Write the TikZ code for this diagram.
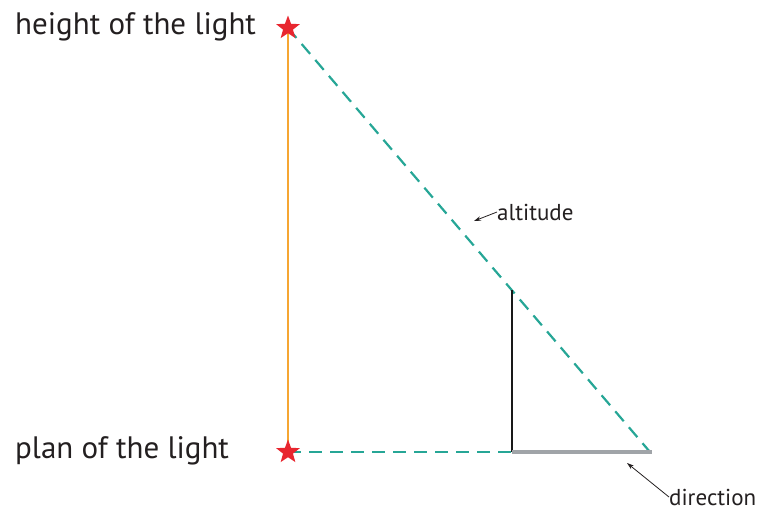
\documentclass[tikz,border=0pt]{standalone}
\usepackage{fontspec}
\setmainfont{PT Sans}
\usetikzlibrary{shapes.geometric,arrows.meta}
\definecolor{tealc}{RGB}{38,166,150}
\definecolor{orangec}{RGB}{246,166,50}
\definecolor{redc}{RGB}{232,38,47}
\definecolor{grayc}{RGB}{160,164,168}
\definecolor{textc}{RGB}{35,31,32}
\tikzset{
  starnode/.style={star,star points=5,star point ratio=2.4,fill=redc,draw=none,minimum size=25pt,inner sep=0pt},
  dashline/.style={tealc,line width=2.2pt,dash pattern=on 13pt off 8pt},
  bigtext/.style={font=\fontsize{31}{36}\selectfont,text=textc,inner sep=0pt},
  smalltext/.style={font=\fontsize{23}{27}\selectfont,text=textc,inner sep=0pt},
  pointer/.style={-{Stealth[length=7pt,width=4.5pt]},line width=0.8pt,textc},
}
\begin{document}
\begin{tikzpicture}[x=1pt,y=-1pt]
\useasboundingbox (0,0) rectangle (765,515);
\coordinate (top) at (288,28);
\coordinate (base) at (288,452);
\coordinate (foot) at (512,452);
\coordinate (tip) at (512,290);
\coordinate (end) at (652,452);
\draw[orangec,line width=2.5pt] (top) -- (base);
\draw[dashline] (top) -- (650,452) coordinate (shadowend);
\draw[dashline] (base) -- (foot);
\draw[black!90,line width=2.4pt] (foot) -- (tip);
\draw[grayc,line width=4.5pt] (foot) -- (end);
\node[starnode] (s1) at (top) {};
\node[starnode] (s2) at (base) {};
\node[bigtext,anchor=west] (h) at (15,27) {height of the light};
\node[bigtext,anchor=west] (p) at (15,451) {plan of the light};
\node[smalltext,anchor=west] (alt) at (497,212) {altitude};
\coordinate (altp) at (474,221);
\draw[pointer] (alt.west) -- (altp);
\node[smalltext,anchor=west] (dir) at (669,497) {direction};
\coordinate (dirp) at (627,463);
\draw[pointer] (dir.west) -- (dirp);
\end{tikzpicture}
\end{document}
